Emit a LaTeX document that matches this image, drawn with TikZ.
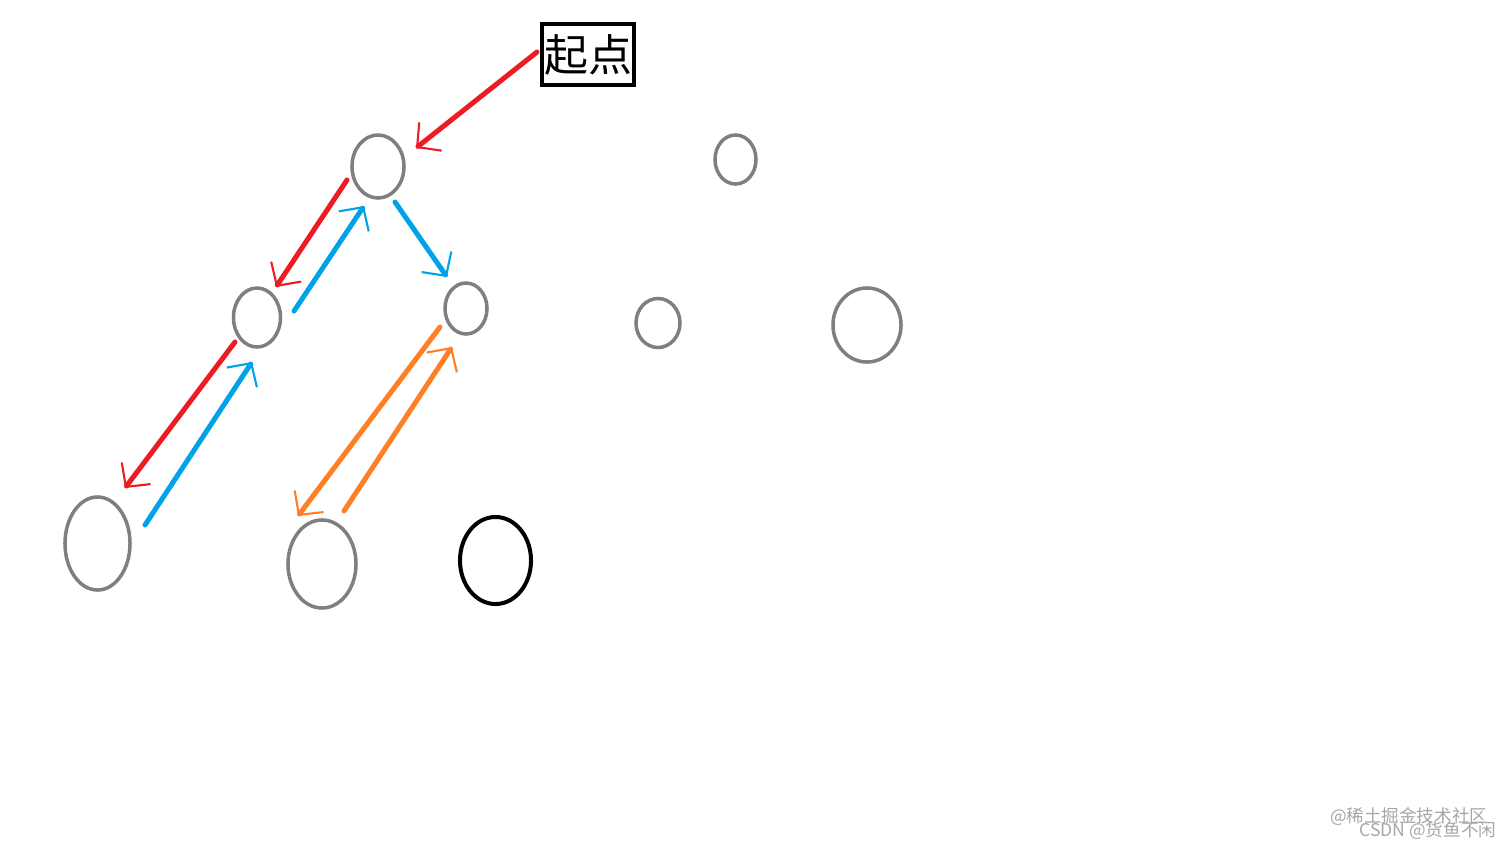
\documentclass[tikz,border=0pt]{standalone}
\usepackage{fontspec}
\newfontfamily\cjk{Noto Sans CJK SC}
\usepackage{xcolor}
\usetikzlibrary{positioning}
\usetikzlibrary{shapes.geometric, arrows.meta}
\definecolor{paintred}{HTML}{ED1C24}
\definecolor{paintblue}{HTML}{00A2E8}
\definecolor{paintorange}{HTML}{FF7F27}
\definecolor{paintgray}{HTML}{7F7F7F}
\tikzstyle{vertex} = [ellipse, draw=paintgray, line width=0.035cm, inner sep=0pt]
\tikzstyle{startbox} = [rectangle, draw=black, line width=0.04cm, inner sep=0pt,
minimum width=0.92cm, minimum height=0.6cm, font=\cjk\fontsize{12.5}{12.5}\selectfont]
\tikzstyle{watermark} = [font=\cjk\fontsize{5}{5}\selectfont, text=black!35, inner sep=0pt, anchor=east]
\tikzstyle{penline} = [draw, line width=0.05cm, line cap=round,
-{Straight Barb[line width=0.6pt, length=0.17cm, width=0.36cm]}]

\begin{document}
\begin{tikzpicture}[x=0.01cm, y=-0.01cm]
	\useasboundingbox (0,0) rectangle (1512,851);
	
	% Place nodes
	\node [startbox] 											(Start) at (588,54.5)	{起点};
	\node [vertex, minimum width=0.52cm, minimum height=0.63cm]	(A) at (378,166.5)		{};
	\node [vertex, minimum width=0.41cm, minimum height=0.49cm]	(B) at (735.5,159.5)	{};
	\node [vertex, minimum width=0.47cm, minimum height=0.59cm]	(C) at (257,317.5)		{};
	\node [vertex, minimum width=0.42cm, minimum height=0.51cm]	(D) at (466,308.5)		{};
	\node [vertex, minimum width=0.44cm, minimum height=0.49cm]	(E) at (658,323)		{};
	\node [vertex, minimum width=0.68cm, minimum height=0.74cm]	(F) at (867,325)		{};
	\node [vertex, minimum width=0.65cm, minimum height=0.93cm]	(G) at (97.5,543.5)		{};
	\node [vertex, minimum width=0.68cm, minimum height=0.88cm]	(H) at (322,564)		{};
	\node [vertex, draw=black, line width=0.04cm, minimum width=0.71cm, minimum height=0.87cm] (I) at (495.5,560.5) {};
	
	%Draw edges
	\draw [penline, paintred] 		([shift={(-51,-2.5)}]Start.center)	-- ([shift={(38,-18.5)}]A.center);
	\draw [penline, paintred] 		([shift={(-31,13.5)}]A.center) 		-- ([shift={(19,-30.5)}]C.center);
	\draw [penline, paintblue] 		([shift={(37,-6.5)}]C.center) 		-- ([shift={(-14,39.5)}]A.center);
	\draw [penline, paintblue] 		([shift={(17,35.5)}]A.center) 		-- ([shift={(-19,-31.5)}]D.center);
	\draw [penline, paintred] 		([shift={(-22,24.5)}]C.center) 		-- ([shift={(27.5,-55.5)}]G.center);
	\draw [penline, paintblue] 		([shift={(47.5,-18.5)}]G.center) 	-- ([shift={(-5,44.5)}]C.center);
	\draw [penline, paintorange] 	([shift={(-26,18.5)}]D.center) 		-- ([shift={(-24,-48)}]H.center);
	\draw [penline, paintorange] 	([shift={(22,-53)}]H.center) 		-- ([shift={(-14,38.5)}]D.center);
	
	% Watermark
	\node [watermark] (Juejin) at (1488,817) {@稀土掘金技术社区};
	\node [watermark] (Csdn) at (1497,831) {CSDN @货鱼不闲};
	
\end{tikzpicture}
\end{document}
